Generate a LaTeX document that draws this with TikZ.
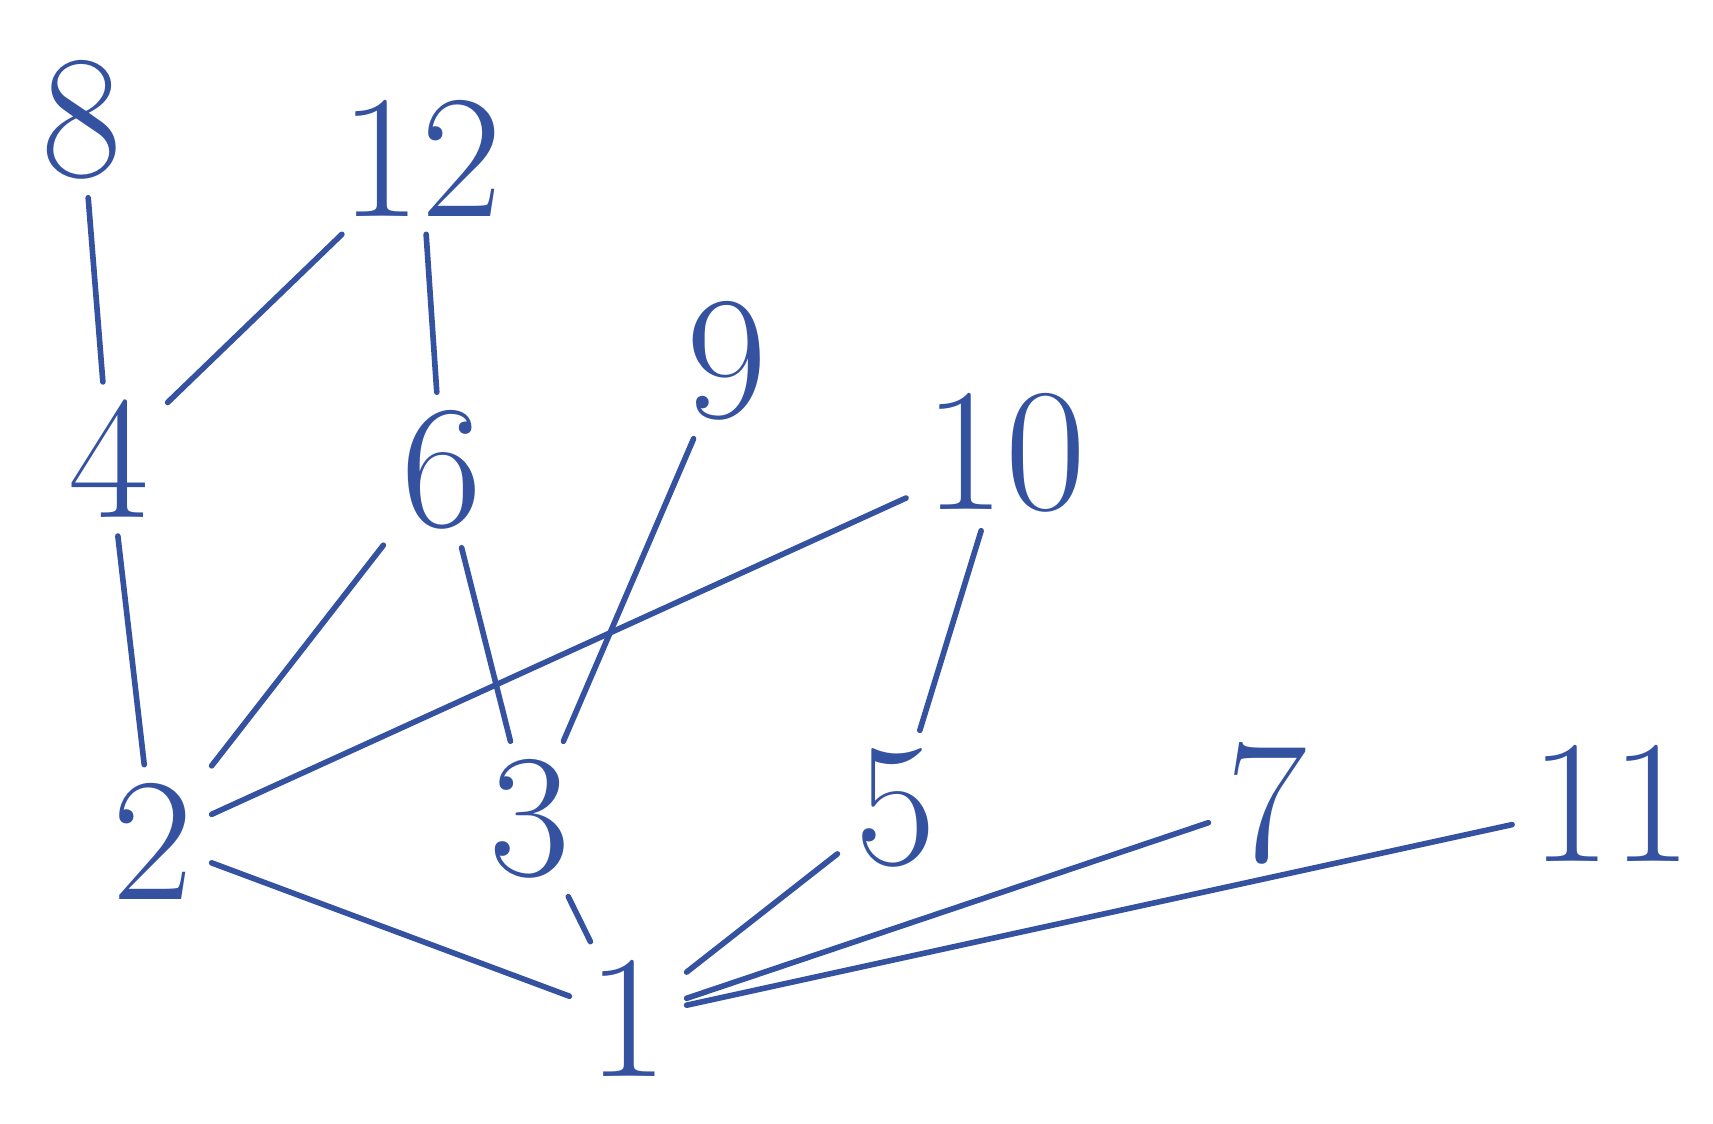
\documentclass[tikz,border=0pt]{standalone}
\usepackage{tikz}

\definecolor{ink}{RGB}{52,82,160}

\begin{document}
\begin{tikzpicture}[
    every node/.style={font=\fontsize{50}{60}\selectfont, text=ink},
    elem/.style={inner sep=5pt},
    cover/.style={draw=ink, line width=1.6pt, line cap=round}
]
\useasboundingbox (0,0) rectangle (17.13,11.23);

% Elements of {1,...,12}
\node[elem] (n8)  at (0.82,10.03) {8};
\node[elem] (n12) at (4.21,9.65)  {12};
\node[elem] (n4)  at (1.09,6.64)  {4};
\node[elem] (n6)  at (4.42,6.53)  {6};
\node[elem] (n9)  at (7.27,7.62)  {9};
\node[elem] (n10) at (10.05,6.70) {10};
\node[elem] (n2)  at (1.53,2.82)  {2};
\node[elem] (n3)  at (5.30,3.04)  {3};
\node[elem] (n5)  at (8.96,3.15)  {5};
\node[elem] (n7)  at (12.67,3.20) {7};
\node[elem] (n11) at (16.11,3.20) {11};
\node[elem] (n1)  at (6.28,1.05)  {1};

% Cover relations
\draw[cover] (n8) -- (n4);
\draw[cover] (n12) -- (n4);
\draw[cover] (n12) -- (n6);
\draw[cover] (n4) -- (n2);
\draw[cover] (n6) -- (n2);
\draw[cover] (n6) -- (n3);
\draw[cover] (n9) -- (n3);
\draw[cover] (n10) -- (n2);
\draw[cover] (n10) -- (n5);
\draw[cover] (n2) -- (n1);
\draw[cover] (n3) -- (n1);
\draw[cover] (n5) -- (n1);
\draw[cover] (n7) -- (n1);
\draw[cover] (n11) -- (n1);

\end{tikzpicture}
\end{document}
